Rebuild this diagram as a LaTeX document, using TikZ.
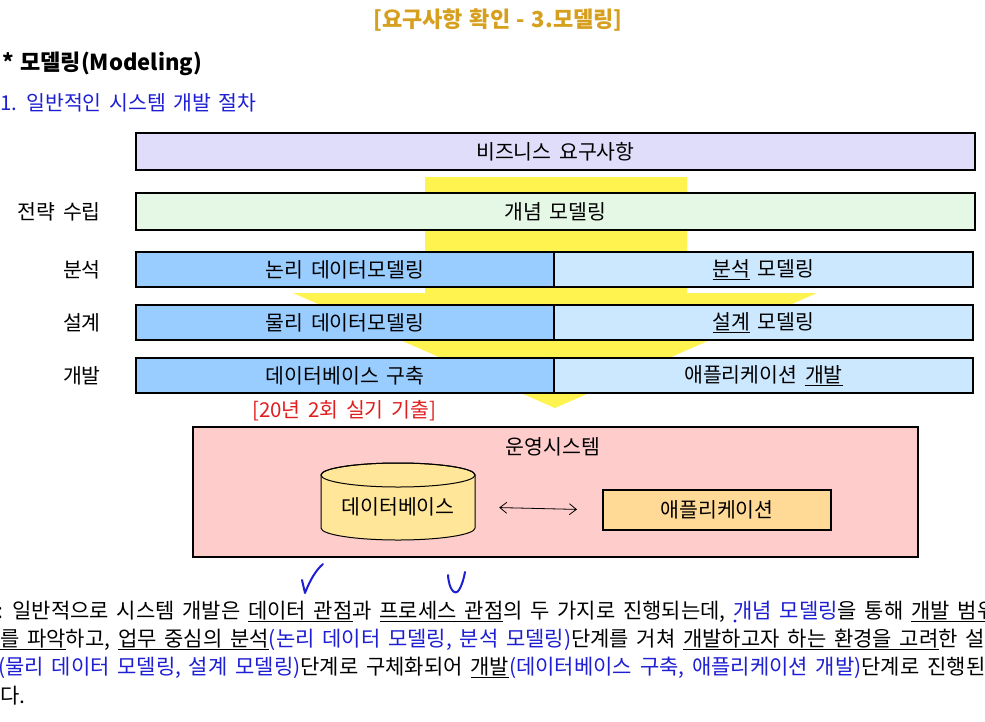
\documentclass[tikz,border=0pt]{standalone}
\usepackage{fontspec}
\setmainfont{Noto Sans CJK KR}
\usetikzlibrary{arrows.meta}
\definecolor{titlegold}{RGB}{214,160,30}
\definecolor{lav}{RGB}{224,221,250}
\definecolor{lgreen}{RGB}{229,248,229}
\definecolor{dblue}{RGB}{153,204,255}
\definecolor{lblue}{RGB}{204,232,255}
\definecolor{arrowyellow}{RGB}{255,243,80}
\definecolor{pinkbg}{RGB}{255,204,204}
\definecolor{dbfill}{RGB}{255,230,153}
\definecolor{appfill}{RGB}{255,217,150}
\definecolor{txtblue}{RGB}{30,30,210}
\definecolor{txtred}{RGB}{225,30,30}
\newcommand{\ul}[1]{\underline{#1}}
\tikzset{
  fs/.style={font={\fontsize{#1}{#1}\selectfont\spaceskip=0.37em}},
  fsb/.style={font={\fontsize{#1}{#1}\selectfont\bfseries\spaceskip=0.3em}},
  rowbox/.style={draw=black, line width=2pt, inner sep=0pt, fs=20.5},
  lbl/.style={fs=20.5, anchor=east, inner sep=0pt},
  para/.style={fs=21, anchor=base west, inner sep=0pt},
}
\begin{document}
\begin{tikzpicture}[x=1pt,y=-1pt]
\useasboundingbox (0,0) rectangle (985,721);
\clip (0,0) rectangle (985,721);
\fill[white] (0,0) rectangle (985,721);

% titles
\node[fsb=22, text=titlegold, inner sep=0pt] (title) at (498,20) {[요구사항 확인 - 3.모델링]};
\node[fsb=22, anchor=west, inner sep=0pt] (head) at (2,64) {* 모델링(Modeling)};
\node[fs=20.5, text=txtblue, anchor=west, inner sep=0pt] (sub) at (0,103) {1. 일반적인 시스템 개발 절차};

% yellow arrow
\fill[arrowyellow] (425,177) -- (687,177) -- (687,293) -- (817,293) -- (555,408) -- (293,293) -- (425,293) -- cycle;

% rows
\node[rowbox, fill=lav, minimum width=839, minimum height=37] (biz) at (555.5,151.5) {비즈니스 요구사항};
\node[rowbox, fill=lgreen, minimum width=839, minimum height=37] (concept) at (555.5,211.5) {개념 모델링};

\node[rowbox, fill=dblue, minimum width=418, minimum height=35] (logic) at (345,269.5) {논리 데이터모델링};
\node[rowbox, fill=lblue, minimum width=419, minimum height=35] (anal) at (763.5,269.5) {\ul{분석} 모델링};
\node[rowbox, fill=dblue, minimum width=418, minimum height=35] (phys) at (345,322.5) {물리 데이터모델링};
\node[rowbox, fill=lblue, minimum width=419, minimum height=35] (desg) at (763.5,322.5) {\ul{설계} 모델링};
\node[rowbox, fill=dblue, minimum width=418, minimum height=35] (dbb) at (345,375.5) {데이터베이스 구축};
\node[rowbox, fill=lblue, minimum width=419, minimum height=35] (appdev) at (763.5,375.5) {애플리케이션 \ul{개발}};

\node[lbl] (l1) at (101,212) {전략 수립};
\node[lbl] (l2) at (101,270) {분석};
\node[lbl] (l3) at (101,323) {설계};
\node[lbl] (l4) at (101,376) {개발};

\node[fs=20.5, text=txtred, anchor=west, inner sep=0pt] (exam) at (252,411) {[20년 2회 실기 기출]};

% operating system
\node[draw=black, line width=2pt, fill=pinkbg, minimum width=725, minimum height=130, inner sep=0pt] (ops) at (555.5,492) {};
\node[fs=20.5, inner sep=0pt] (opst) at (553,447) {운영시스템};

% cylinder
\draw[fill=dbfill, line width=1pt] (321,475) -- (321,528) arc (180:0:77 and 12) -- (475,475) arc (0:-180:77 and 12) -- cycle;
\draw[line width=1pt] (398,475) ellipse (77 and 12);
\node[fs=20.5, minimum width=154, inner sep=0pt] (db) at (398,507) {데이터베이스};

\node[draw=black, line width=2pt, fill=appfill, minimum width=228, minimum height=40, inner sep=0pt, fs=20.5] (app) at (717,510) {애플리케이션};
\draw[{Straight Barb[length=7pt,width=11pt]}-{Straight Barb[length=7pt,width=11pt]}, line width=0.8pt, shorten <=24pt, shorten >=25pt] (db.east) -- (app.west);

% paragraph
\node[para] (p1) at (-3,618) {: 일반적으로 시스템 개발은 \ul{데이터 관점}과 \ul{프로세스 관점}의 두 가지로 진행되는데, \textcolor{txtblue}{개념 모델링}을 통해 \ul{개발 범위}};
\node[para] (p2) at (0,646) {\ul{를 파악}하고, \ul{업무 중심의 분석}\textcolor{txtblue}{(논리 데이터 모델링, 분석 모델링)}단계를 거쳐 \ul{개발하고자 하는 환경을 고려}한 설계};
\node[para] (p3) at (-2,674) {\textcolor{txtblue}{(물리 데이터 모델링, 설계 모델링)}단계로 구체화되어 \ul{개발}\textcolor{txtblue}{(데이터베이스 구축, 애플리케이션 개발)}단계로 진행된};
\node[para] (p4) at (0,703) {다.};

% hand marks
\draw[txtblue, line width=2pt, line cap=round, line join=round] (302,580) -- (305,593) .. controls (310,580) and (316,570) .. (323,564);
\draw[txtblue, line width=2pt, line cap=round] (448,575) .. controls (449,590) and (455,596) .. (459,590) .. controls (462,585) and (464,578) .. (465,572);
\fill[txtblue] (735,621) circle (1.6);
\end{tikzpicture}
\end{document}
